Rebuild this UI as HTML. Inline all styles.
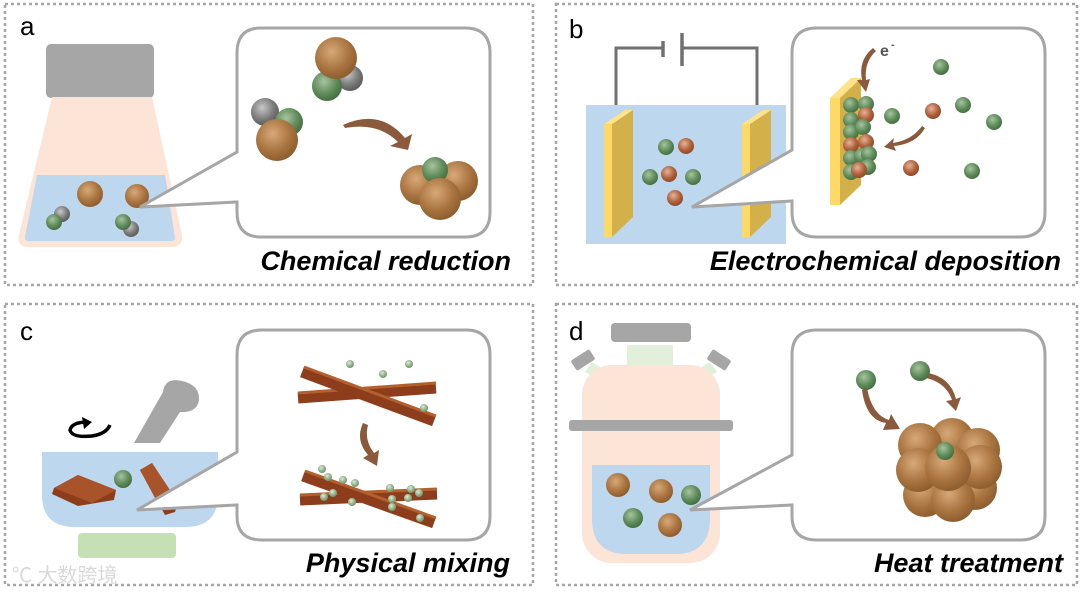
<!DOCTYPE html>
<html><head><meta charset="utf-8"><style>
html,body{margin:0;padding:0;background:#fff;}
svg{display:block;}
text{font-family:"Liberation Sans",Arial,sans-serif;}
.lab{font-size:26px;fill:#000;}
.ttl{font-size:27px;font-weight:bold;font-style:italic;fill:#000;}
</style></head><body>
<svg width="1080" height="595" viewBox="0 0 1080 595" xmlns="http://www.w3.org/2000/svg">
<defs>
<radialGradient id="br" cx="0.4" cy="0.35" r="0.7"><stop offset="0" stop-color="#d7a978"/><stop offset="0.6" stop-color="#a8733f"/><stop offset="1" stop-color="#8a5a2c"/></radialGradient>
<radialGradient id="gr" cx="0.4" cy="0.35" r="0.7"><stop offset="0" stop-color="#a6c49f"/><stop offset="0.6" stop-color="#5f8a5a"/><stop offset="1" stop-color="#3f6a3c"/></radialGradient>
<radialGradient id="gy" cx="0.4" cy="0.35" r="0.7"><stop offset="0" stop-color="#c8c8c8"/><stop offset="0.6" stop-color="#7a7a7a"/><stop offset="1" stop-color="#555"/></radialGradient>
<radialGradient id="lg" cx="0.4" cy="0.35" r="0.7"><stop offset="0" stop-color="#dfeadb"/><stop offset="0.6" stop-color="#8fb088"/><stop offset="1" stop-color="#6a8f64"/></radialGradient>
<radialGradient id="rb" cx="0.4" cy="0.35" r="0.7"><stop offset="0" stop-color="#e3b49a"/><stop offset="0.6" stop-color="#b0603a"/><stop offset="1" stop-color="#8a4525"/></radialGradient>
</defs>

<g fill="none" stroke="#a6a6a6" stroke-width="2.5" stroke-dasharray="3 3">
<rect x="5" y="4" width="528" height="281"/>
<rect x="556" y="4" width="521" height="281"/>
<rect x="5" y="304" width="528" height="281"/>
<rect x="556" y="304" width="521" height="281"/>
</g>

<!-- ===== a ===== -->
<text x="20" y="35" class="lab">a</text>
<rect x="46" y="44" width="108" height="54" rx="5" fill="#a6a6a6"/>
<path d="M52,97 H152 L182,235 Q183,247 172,247 H28 Q17,247 19,235 Z" fill="#fce4d6"/>
<path d="M37,175 H165 L175,238 Q175,241 171,241 H28 Q25,241 25,237 Z" fill="#bdd7ee"/>
<circle cx="90" cy="194" r="13" fill="url(#br)"/>
<circle cx="137" cy="196" r="12" fill="url(#br)"/>
<circle cx="62" cy="214" r="8" fill="url(#gy)"/>
<circle cx="54" cy="222" r="8" fill="url(#gr)"/>
<circle cx="131" cy="229" r="8" fill="url(#gy)"/>
<circle cx="123" cy="222" r="8" fill="url(#gr)"/>
<path d="M261,28 H465 Q490,28 490,53 V212 Q490,237 465,237 H261 Q237,237 237,212 V202 L140,207 L237,152 V53 Q237,28 261,28 Z" fill="#fff" stroke="#a6a6a6" stroke-width="3"/>
<circle cx="350" cy="78" r="13" fill="url(#gy)"/>
<circle cx="327" cy="86" r="15" fill="url(#gr)"/>
<circle cx="336" cy="58" r="21" fill="url(#br)"/>
<circle cx="265" cy="112" r="14" fill="url(#gy)"/>
<circle cx="289" cy="122" r="14" fill="url(#gr)"/>
<circle cx="277" cy="140" r="21" fill="url(#br)"/>
<path d="M343,125 Q380,108 405,138 L412,134 L408,150 L390,146 L398,142 Q378,122 345,128 Z" fill="#8b5a3c"/>
<circle cx="420" cy="185" r="20" fill="url(#br)"/>
<circle cx="458" cy="181" r="20" fill="url(#br)"/>
<circle cx="435" cy="170" r="13" fill="url(#gr)"/>
<circle cx="440" cy="199" r="21" fill="url(#br)"/>
<text x="511" y="270" text-anchor="end" class="ttl">Chemical reduction</text>

<!-- ===== b ===== -->
<text x="569" y="38" class="lab">b</text>
<path d="M616,160 V48 H663 M682,48 H757 V120" fill="none" stroke="#707070" stroke-width="3"/>
<line x1="663" y1="41" x2="663" y2="57" stroke="#707070" stroke-width="3.5"/>
<line x1="682" y1="33" x2="682" y2="66" stroke="#707070" stroke-width="3.5"/>
<rect x="586" y="105" width="200" height="139" fill="#bdd7ee"/>
<polygon points="604,124 612,124 612,237 604,237" fill="#ffd966"/>
<polygon points="612,124 633,110 633,217 612,237" fill="#d4b04a"/>
<polygon points="604,124 625,110 633,110 612,124" fill="#ffe28a"/>
<polygon points="742,124 750,124 750,237 742,237" fill="#ffd966"/>
<polygon points="750,124 771,110 771,217 750,237" fill="#d4b04a"/>
<polygon points="742,124 763,110 771,110 750,124" fill="#ffe28a"/>
<circle cx="666" cy="147" r="8" fill="url(#gr)"/>
<circle cx="686" cy="146" r="8" fill="url(#rb)"/>
<circle cx="650" cy="177" r="8" fill="url(#gr)"/>
<circle cx="669" cy="174" r="8" fill="url(#rb)"/>
<circle cx="693" cy="177" r="8" fill="url(#gr)"/>
<circle cx="675" cy="198" r="8" fill="url(#rb)"/>
<path d="M817,28 H1020 Q1045,28 1045,53 V212 Q1045,237 1020,237 H817 Q792,237 792,212 V201 L692,207 L792,150 V53 Q792,28 817,28 Z" fill="#fff" stroke="#a6a6a6" stroke-width="3"/>
<polygon points="830,98 840,98 840,205 830,205" fill="#ffd966"/>
<polygon points="830,98 851,78 861,78 840,98" fill="#ffe28a"/>
<polygon points="840,98 861,78 861,185 840,205" fill="#d4b04a"/>
<g>
<circle cx="851" cy="105" r="8" fill="url(#gr)"/><circle cx="866" cy="104" r="8" fill="url(#gr)"/>
<circle cx="851" cy="120" r="8" fill="url(#gr)"/><circle cx="866" cy="115" r="8" fill="url(#rb)"/>
<circle cx="851" cy="132" r="8" fill="url(#gr)"/><circle cx="863" cy="127" r="8" fill="url(#gr)"/>
<circle cx="851" cy="145" r="8" fill="url(#rb)"/><circle cx="866" cy="142" r="8" fill="url(#rb)"/>
<circle cx="851" cy="158" r="8" fill="url(#gr)"/><circle cx="862" cy="156" r="8" fill="url(#gr)"/><circle cx="869" cy="154" r="8" fill="url(#gr)"/>
<circle cx="851" cy="172" r="8" fill="url(#gr)"/><circle cx="868" cy="167" r="8" fill="url(#gr)"/><circle cx="859" cy="170" r="8" fill="url(#rb)"/>
</g>
<path d="M873,48 Q858,60 862,80 L857,80 L866,92 L870,79 L866,80 Q864,62 876,51 Z" fill="#8b5a3c"/>
<text x="880" y="56" font-size="16" font-weight="bold" fill="#555">e</text>
<text x="891" y="48" font-size="11" font-weight="bold" fill="#555">-</text>
<path d="M922,126 Q912,140 893,143 L894,138 L884,147 L896,151 L894,146 Q916,144 925,128 Z" fill="#8b5a3c"/>
<circle cx="941" cy="67" r="8" fill="url(#gr)"/>
<circle cx="892" cy="116" r="8" fill="url(#gr)"/>
<circle cx="933" cy="111" r="8" fill="url(#rb)"/>
<circle cx="963" cy="105" r="8" fill="url(#gr)"/>
<circle cx="994" cy="122" r="8" fill="url(#gr)"/>
<circle cx="911" cy="168" r="8" fill="url(#rb)"/>
<circle cx="972" cy="171" r="8" fill="url(#gr)"/>
<text x="1061" y="270" text-anchor="end" class="ttl">Electrochemical deposition</text>

<!-- ===== c ===== -->
<text x="20" y="340" class="lab">c</text>
<path d="M134,443 L160,443 L180,412 Q197,413 199,400 Q200,385 182,381 Q165,377 163,392 Z" fill="#a6a6a6"/>
<path d="M88,422 Q72,422 70,430 Q72,438 92,436 Q106,434 110,425" fill="none" stroke="#000" stroke-width="3.5"/>
<polygon points="82,417 92,422 84,429" fill="#000"/>
<rect x="78" y="533" width="98" height="25" rx="4" fill="#c5e0b4"/>
<path d="M42,452 H218 V495 Q218,527 185,527 H75 Q42,527 42,495 Z" fill="#bdd7ee"/>
<polygon points="54,488 78,475 116,490 114,500 78,506 52,494" fill="#8e3d1c"/>
<polygon points="54,488 78,475 116,490 92,503" fill="#a8532a"/>
<polygon points="140,470 152,463 178,503 175,512 165,515" fill="#8e3d1c"/>
<polygon points="140,470 152,463 170,490 155,498" fill="#a8532a"/>
<circle cx="123" cy="479" r="9" fill="url(#gr)"/>
<path d="M262,330 H466 Q490,330 490,355 V516 Q490,540 466,540 H262 Q237,540 237,516 V505 L137,510 L237,452 V355 Q237,330 262,330 Z" fill="#fff" stroke="#a6a6a6" stroke-width="3"/>
<g stroke-linecap="butt">
<line x1="298" y1="398" x2="436" y2="388" stroke="#8e3d1c" stroke-width="11"/>
<line x1="298" y1="393" x2="436" y2="383" stroke="#b3602f" stroke-width="3"/>
<line x1="302" y1="372" x2="434" y2="421" stroke="#8e3d1c" stroke-width="11"/>
<line x1="304" y1="367" x2="436" y2="416" stroke="#b3602f" stroke-width="3"/>
<line x1="300" y1="500" x2="437" y2="494" stroke="#8e3d1c" stroke-width="11"/>
<line x1="300" y1="495" x2="437" y2="489" stroke="#b3602f" stroke-width="3"/>
<line x1="303" y1="476" x2="434" y2="523" stroke="#8e3d1c" stroke-width="11"/>
<line x1="305" y1="471" x2="436" y2="518" stroke="#b3602f" stroke-width="3"/>
</g>
<path d="M363,423 Q355,440 368,455 L363,458 L377,466 L379,450 L374,453 Q364,440 368,425 Z" fill="#8b5a3c"/>
<g fill="url(#lg)">
<circle cx="350" cy="364" r="4"/><circle cx="409" cy="364" r="4"/><circle cx="383" cy="374" r="4"/><circle cx="424" cy="408" r="4"/>
<circle cx="322" cy="469" r="4"/><circle cx="328" cy="477" r="4"/><circle cx="343" cy="480" r="4"/><circle cx="355" cy="483" r="4"/>
<circle cx="324" cy="497" r="4"/><circle cx="333" cy="493" r="4"/><circle cx="352" cy="502" r="4"/>
<circle cx="390" cy="488" r="4"/><circle cx="411" cy="489" r="4"/><circle cx="419" cy="493" r="4"/>
<circle cx="392" cy="499" r="4"/><circle cx="408" cy="498" r="4"/><circle cx="392" cy="507" r="4"/><circle cx="420" cy="518" r="4"/>
</g>
<text x="510" y="572" text-anchor="end" class="ttl">Physical mixing</text>
<text x="12" y="582" font-size="20" fill="#d9d9d9" font-family="'Liberation Sans','Noto Sans CJK SC',sans-serif">℃ 大数跨境</text>

<!-- ===== d ===== -->
<text x="569" y="340" class="lab">d</text>
<rect x="627" y="345" width="46" height="22" fill="#e2efda"/>
<rect x="611" y="323" width="80" height="19" rx="4" fill="#a6a6a6"/>
<polygon points="585,372 592,362 600,367 595,378" fill="#e2efda"/>
<polygon points="717,372 710,362 702,367 707,378" fill="#e2efda"/>
<rect x="572" y="354" width="22" height="12" rx="2" fill="#a6a6a6" transform="rotate(-33 583 360)"/>
<rect x="708" y="354" width="22" height="12" rx="2" fill="#a6a6a6" transform="rotate(33 719 360)"/>
<rect x="582" y="365" width="138" height="198" rx="30" fill="#fce4d6"/>
<rect x="569" y="420" width="164" height="11" rx="3" fill="#a6a6a6"/>
<path d="M592,465 H710 V518 Q710,554 675,554 H627 Q592,554 592,518 Z" fill="#bdd7ee"/>
<circle cx="618" cy="485" r="12" fill="url(#br)"/>
<circle cx="661" cy="491" r="12" fill="url(#br)"/>
<circle cx="691" cy="495" r="10" fill="url(#gr)"/>
<circle cx="633" cy="518" r="10" fill="url(#gr)"/>
<circle cx="670" cy="525" r="12" fill="url(#br)"/>
<path d="M817,330 H1020 Q1045,330 1045,355 V516 Q1045,540 1020,540 H817 Q792,540 792,516 V505 L690,510 L792,455 V355 Q792,330 817,330 Z" fill="#fff" stroke="#a6a6a6" stroke-width="3"/>
<path d="M862,390 Q866,420 886,423 L883,430 L900,429 L891,414 L889,420 Q872,415 867,388 Z" fill="#8b5a3c"/>
<path d="M920,377 Q945,380 952,400 L946,401 L956,411 L961,397 L956,399 Q950,375 922,372 Z" fill="#8b5a3c"/>
<circle cx="866" cy="380" r="10" fill="url(#gr)"/>
<circle cx="920" cy="371" r="10" fill="url(#gr)"/>
<g fill="url(#br)">
<circle cx="952" cy="440" r="22"/><circle cx="978" cy="450" r="22"/><circle cx="920" cy="445" r="22"/>
<circle cx="975" cy="488" r="22"/><circle cx="925" cy="495" r="22"/><circle cx="953" cy="500" r="22"/>
<circle cx="980" cy="467" r="22"/><circle cx="918" cy="470" r="22"/><circle cx="948" cy="468" r="23"/>
</g>
<circle cx="945" cy="451" r="9" fill="url(#gr)"/>
<text x="1063" y="572" text-anchor="end" class="ttl">Heat treatment</text>
</svg>
</body></html>
